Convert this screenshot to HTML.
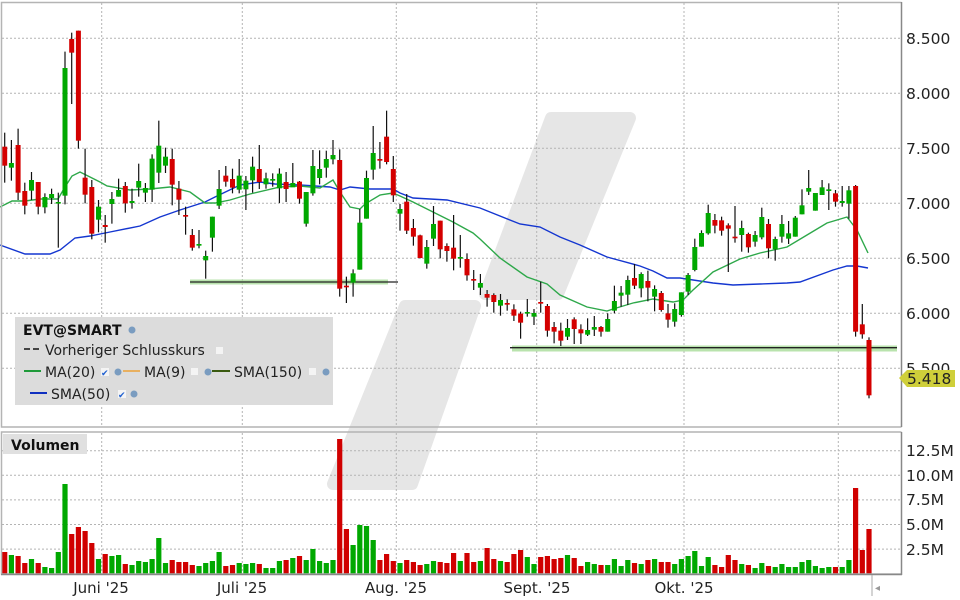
<!DOCTYPE html>
<html><head><meta charset="utf-8">
<style>
html,body{margin:0;padding:0;background:#fff;}
svg{display:block;font-family:"DejaVu Sans","Liberation Sans",sans-serif;}
</style></head>
<body>
<svg id="s" width="960" height="600" viewBox="0 0 960 600" xmlns="http://www.w3.org/2000/svg">
<rect x="0" y="0" width="960" height="600" fill="#fff"/>
<g fill="#e6e6e6" stroke="#e6e6e6" stroke-width="12" stroke-linejoin="round">
<polygon points="551,118 630,118 558,294 485,294"/>
<polygon points="405,306 475,306 412,484 333,484"/>
</g>
<g id="grid" stroke="#b4b4b4" stroke-width="1" stroke-dasharray="2,2" fill="none"></g>
<rect x="190" y="279.5" width="198" height="5" fill="#a8dc98" opacity="0.8"/>
<line x1="190" y1="282" x2="398" y2="282" stroke="#222" stroke-width="1.3"/>
<rect x="512" y="345.5" width="385" height="6" fill="#a8dc98" opacity="0.8"/>
<line x1="510" y1="347.7" x2="897" y2="347.7" stroke="#222" stroke-width="1.3"/>
<g id="lines" fill="none"></g>
<g id="candles"></g>
<g id="vol"></g>
<g fill="none" stroke="#b4b4b4" stroke-width="1.5">
<polyline points="901.5,2.5 1.5,2.5 1.5,427 901.5,427"/>
<polyline points="901.5,432 1.5,432 1.5,574 901.5,574"/>
</g>
<line x1="901.5" y1="2" x2="901.5" y2="427" stroke="#888" stroke-width="1.5"/>
<line x1="901.5" y1="432" x2="901.5" y2="575" stroke="#888" stroke-width="1.5"/>
<line x1="1" y1="574.5" x2="902" y2="574.5" stroke="#888" stroke-width="1.5"/>
<line x1="872" y1="575" x2="872" y2="596" stroke="#aaa" stroke-width="1"/>
<text x="875" y="591" font-size="10" fill="#999">◂</text>
<g font-size="15.5" fill="#222">
<text x="906" y="44">8.500</text>
<text x="906" y="99">8.000</text>
<text x="906" y="154">7.500</text>
<text x="906" y="209">7.000</text>
<text x="906" y="264">6.500</text>
<text x="906" y="319">6.000</text>
<text x="906" y="374">5.500</text>
<text x="906" y="456">12.5M</text>
<text x="906" y="481">10.0M</text>
<text x="906" y="505">7.5M</text>
<text x="906" y="530">5.0M</text>
<text x="906" y="555">2.5M</text>
</g>
<polygon points="899,378 907,370 955,370 955,387 907,387" fill="#cfcf3a"/>
<text x="907" y="384" font-size="15.5" fill="#222">5.418</text>
<g font-size="15" fill="#222" text-anchor="middle">
<text x="101" y="593">Juni '25</text>
<text x="242" y="593">Juli '25</text>
<text x="396" y="593">Aug. '25</text>
<text x="537" y="593">Sept. '25</text>
<text x="684" y="593">Okt. '25</text>
</g>
<rect x="15" y="317" width="318" height="88" fill="#dcdcdc"/>
<text x="23" y="335" font-size="14" font-weight="bold" fill="#111">EVT@SMART</text>
<circle cx="132" cy="330" r="3.5" fill="#7a9cc0"/>
<line x1="24" y1="349" x2="41" y2="349" stroke="#444" stroke-width="2" stroke-dasharray="6,3"/>
<text x="45" y="355" font-size="14" fill="#222">Vorheriger Schlusskurs</text>
<rect x="216" y="347" width="7" height="7" fill="#f4f4f4"/>
<line x1="24" y1="371" x2="41" y2="371" stroke="#1f9a3a" stroke-width="2"/>
<text x="45" y="377" font-size="14" fill="#222">MA(20)</text>
<rect x="101" y="368" width="8" height="8" fill="#f4f4f4"/>
<text x="101" y="376" font-size="9" fill="#2060d0">✔</text>
<circle cx="118" cy="372" r="3.5" fill="#7a9cc0"/>
<line x1="123" y1="371" x2="140" y2="371" stroke="#e8b060" stroke-width="2"/>
<text x="144" y="377" font-size="14" fill="#222">MA(9)</text>
<rect x="191" y="368" width="7" height="7" fill="#f4f4f4"/>
<circle cx="208" cy="372" r="3.5" fill="#7a9cc0"/>
<line x1="212" y1="371" x2="230" y2="371" stroke="#3a5a10" stroke-width="2"/>
<text x="234" y="377" font-size="14" fill="#222">SMA(150)</text>
<rect x="309" y="368" width="7" height="7" fill="#f4f4f4"/>
<circle cx="326" cy="372" r="3.5" fill="#7a9cc0"/>
<line x1="30" y1="393" x2="47" y2="393" stroke="#1030c0" stroke-width="2"/>
<text x="51" y="399" font-size="14" fill="#222">SMA(50)</text>
<rect x="118" y="390" width="8" height="8" fill="#f4f4f4"/>
<text x="118" y="398" font-size="9" fill="#2060d0">✔</text>
<circle cx="134" cy="394" r="3.5" fill="#7a9cc0"/>
<rect x="3" y="434" width="84" height="20" fill="#e0e0e0"/>
<text x="11" y="450" font-size="14" font-weight="bold" fill="#111">Volumen</text>
</svg>
<script>
(function(){
var NS="http://www.w3.org/2000/svg";
function el(p,t,a){var e=document.createElementNS(NS,t);for(var k in a)e.setAttribute(k,a[k]);p.appendChild(e);return e;}
var g=document.getElementById('grid');
[38.3,93.3,148.3,203.3,258.3,313.3,368.3].forEach(function(y){el(g,'line',{x1:2,x2:901,y1:y,y2:y});});
[450.7,475.3,499.9,524.5,549.1].forEach(function(y){el(g,'line',{x1:2,x2:901,y1:y,y2:y});});
[101.7,242.3,396.3,536.7,684,838.3].forEach(function(x){el(g,'line',{x1:x,x2:x,y1:3,y2:427});el(g,'line',{x1:x,x2:x,y1:433,y2:574});});
var A="r 440 497 398 548|g 489 503 420 542|r 435 578 386 600|r 573 617 548 643|g 540 572 516 600|r 546 620 546 643|g 591 622 580 640|g 582 594 566 612|g 606 610 578 743|g 204 587 155 613|r 117 158 98 312|r 92 422 92 446|r 533 584 446 610|r 561 701 540 718|g 620 659 600 697|r 675 681 645 728|g 597 612 576 671|g 570 590 536 590|r 558 610 546 638|g 603 609 566 626|g 543 563 491 590|g 564 578 549 606|g 476 569 463 606|g 437 518 362 549|g 470 497 443 519|r 477 554 446 616|r 566 599 543 645|r 645 650 620 704|r 705 743 687 752|g 732 737 690 745|g 768 781 752 836|g 650 713 650 755|g 567 617 510 627|r 527 545 498 560|r 537 563 506 580|g 527 569 477 580|g 542 568 528 630|g 500 541 470 578|r 507 546 435 567|g 535 553 518 566|g 537 542 520 560|g 521 565 505 609|r 546 567 516 606|g 549 562 489 560|r 545 596 543 611|g 576 671 576 680|g 498 580 450 587|g 507 534 451 553|g 477 503 452 533|g 465 478 420 493|r 480 866 448 890|r 857 862 830 909|g 820 848 808 890|g 668 809 627 809|g 534 656 512 656|g 459 509 378 539|r 477 482 426 506|r 410 486 332 493|r 507 586 468 606|g 627 641 612 692|r 605 692 582 702|r 684 710 657 737|r 706 774 704 775|g 741 791 720 806|g 672 716 618 738|r 662 748 662 775|r 738 753 730 785|r 743 776 645 811|g 771 776 705 803|r 777 826 760 842|r 837 842 810 870";
var B="g 399 413 372 435|r 432 443 420 470|r 435 456 430 488|g 450 467 432 497|r 459 464 448 482|r 478 497 463 513|r 491 518 485 566|g 486 491 447 500|g 489 500 477 525|r 456 461 395 488|r 468 542 462 560|r 531 545 516 580";
var C="r 692 722 668 738|g 684 710 657 720|r 658 687 652 732|r 688 700 673 732|g 690 704 655 708|g 681 689 648 708|r 681 695 678 710|g 657 695 640 695|g 603 632 557 640|g 578 587 558 620|g 540 584 527 615|r 534 557 492 567|g 522 565 517 592|r 543 563 512 604|g 567 590 556 634|r 579 630 573 635|r 640 659 612 683|g 627 665 610 680|g 577 645 577 650|g 525 575 519 585|g 441 510 416 514|g 399 440 391 440|g 339 400 314 404|r 360 377 342 400|r 361 392 350 407|r 376 386 370 516|r 410 415 318 428|g 384 405 362 455|r 402 442 398 458|g 405 425 393 440|g 351 412 323 418|r 372 445 357 475|g 417 448 410 482|g 372 410 345 428|g 400 416 363 432|g 353 410 348 410|g 316 343 268 343|g 264 275 210 285|g 279 332 279 332|g 262 285 240 285|g 268 273 250 330|r 280 305 270 320|g 303 309 258 320|g 271 311 258 356|r 258 695 255 710|r 673 703 612 716|r 720 886 712 895";
var data=[];
function add(s,off){s.split('|').forEach(function(r){var p=r.split(' ');data.push([p[0],off+ +p[1]/3,off+ +p[2]/3,off+ +p[3]/3,off+ +p[4]/3]);});}
add(A,0);add(B,150);add(C,100);
var cg=document.getElementById('candles');
function X(i){return 4.7+6.70*i;}
data.forEach(function(d,i){
 var x=X(i),col=d[0]=='g'?'#00a800':'#d40000';
 el(cg,'line',{x1:x,x2:x,y1:d[3],y2:d[4],stroke:'#111','stroke-width':1.2});
 var h=Math.max(d[2]-d[1],1.6);
 el(cg,'rect',{x:x-2.5,y:d[1],width:5,height:h,fill:col});
});
var V1="r 756|g 765|r 768|r 789|g 777|r 789|g 801|g 804|g 756|g 552|r 702|r 681|r 693|r 729|g 777|r 762|g 768|g 765|r 792|g 795|g 783|g 786|g 777|g 714|g 789|r 780|r 786|r 786|r 795|g 798|g 789|g 783|g 756|r 798|r 795|g 789|g 792|g 789|r 792|g 804|g 804|g 783|r 780|g 774|r 768|g 780|g 747|g 783|g 789|g 780|r 417|r 687|g 735|g 675|g 678|g 720|r 780|r 762|r 783|g 789|r 780|r 786|r 795|g 792|g 783|r 786|r 789|r 759|g 783|r 759|r 786|g 783";
var V2="r 384|r 417|g 423|r 426|r 402|r 390|g 411|g 432|r 411|r 408|r 417|r 414|g 405|r 414|r 438|g 426|g 432|r 435|g 435|g 417|g 438|g 420|r 429|g 432|r 420|g 417|r 426|r 426|g 432|g 417|g 408|g 393|g 438|g 411|r 435|r 441|r 405|r 420|g 432|r 435|g 444|g 429|r 438|g 441|g 432|g 441|g 441|g 426|g 420|g 438|g 444|g 441|r 441|g 441|g 420|r 204|r 390|r 327";
var vg=document.getElementById('vol'),vi=0;
function addV(s,off){s.split('|').forEach(function(r){var p=r.split(' ');var y=off+ +p[1]/3;var x=X(vi);
 el(vg,'rect',{x:x-2.6,y:y,width:5.2,height:574-y,fill:p[0]=='g'?'#00a800':'#d00000'});vi++;});}
addV(V1,300);addV(V2,420);
var lg=document.getElementById('lines');
var blue="0,245 25,254 50,254 60,250 75,238 90,236 110,232 140,226 160,217 180,210 205,202 215,197 240,185 260,182 275,184 300,185 330,187 340,190 350,187 370,189 380,189 393,189 400,193 413,198 447,200 480,208 520,224 540,227 560,237 580,245 607,257 640,266 653,271 667,278 680,278 713,283 733,285 760,284 787,283 800,282 833,270 847,266 857,266 868,268";
var green="0,207 12,201 25,201 40,199 58,199 65,187 72,176 80,172 90,177 100,182 107,186 130,190 150,189 170,187 190,192 205,203 215,203 230,200 250,194 280,187 300,186 320,188 333,180 340,192 350,207 360,209 365,204 380,195 393,193 400,196 413,202 433,212 453,222 473,233 480,239 500,258 527,277 547,284 560,295 587,307 607,311 613,309 633,303 653,299 673,302 683,300 693,290 713,272 740,259 760,253 787,247 807,235 827,223 847,217 857,230 868,253";
el(lg,'polyline',{points:blue,stroke:'#1436d0','stroke-width':1.4});
el(lg,'polyline',{points:green,stroke:'#2ea84a','stroke-width':1.4});
})();
</script>
</body></html>
